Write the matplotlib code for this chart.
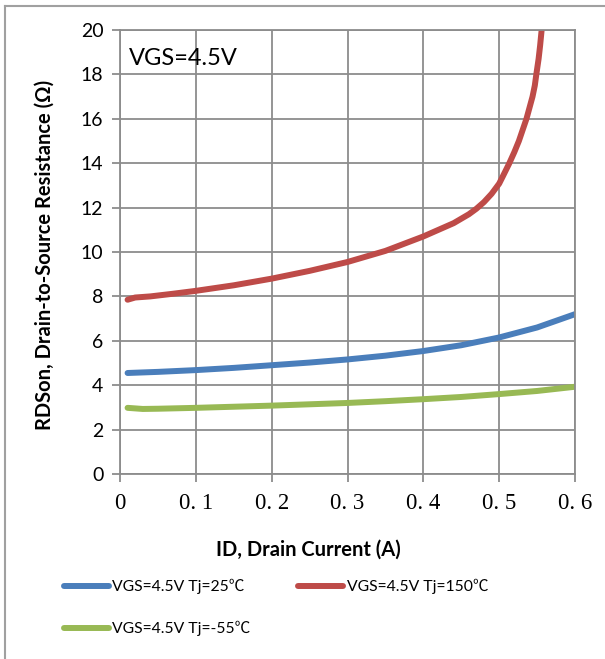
import numpy as np
import matplotlib
matplotlib.use("Agg")
import matplotlib.pyplot as plt
from matplotlib.lines import Line2D

# curves: drain current (A) vs RDSon (ohm)
id_25 = [0.01, 0.05, 0.1, 0.15, 0.2, 0.25, 0.3, 0.35, 0.4, 0.45, 0.5, 0.55, 0.6]
r_25 = [4.55, 4.6, 4.68, 4.78, 4.9, 5.02, 5.16, 5.33, 5.54, 5.8, 6.15, 6.6, 7.2]

id_150 = [0.01, 0.02, 0.04, 0.07, 0.1, 0.15, 0.2, 0.25, 0.3, 0.35, 0.4, 0.42,
          0.44, 0.46, 0.47, 0.48, 0.49, 0.5, 0.505, 0.513, 0.52, 0.526, 0.531,
          0.536, 0.54, 0.544, 0.547, 0.549, 0.552, 0.554, 0.556]
r_150 = [7.85, 7.95, 8.0, 8.12, 8.25, 8.5, 8.8, 9.15, 9.55, 10.05, 10.7, 11.0,
         11.3, 11.7, 11.95, 12.25, 12.62, 13.08, 13.42, 13.97, 14.5, 15.0, 15.5,
         16.0, 16.5, 17.0, 17.5, 18.0, 18.7, 19.3, 20.0]

id_m55 = [0.01, 0.03, 0.05, 0.1, 0.15, 0.2, 0.25, 0.3, 0.35, 0.4, 0.45, 0.5, 0.55, 0.6]
r_m55 = [2.98, 2.93, 2.94, 2.98, 3.03, 3.08, 3.14, 3.2, 3.28, 3.37, 3.47, 3.6, 3.74, 3.93]

labels = ["VGS=4.5V Tj=25\u2103", "VGS=4.5V Tj=150\u2103", "VGS=4.5V Tj=-55\u2103"]
colors = ["#4a7ebb", "#be4b48", "#98b954"]

xticks = [0, 0.1, 0.2, 0.3, 0.4, 0.5, 0.6]
xticklabels = ["0", "0. 1", "0. 2", "0. 3", "0. 4", "0. 5", "0. 6"]
yticks = np.arange(0, 21, 2)

sans = ["Lato", "Noto Sans CJK SC"]
grid_c = "#8c8c8c"

fig = plt.figure(figsize=(6.05, 6.59), dpi=100)
ax = fig.add_axes([120 / 605, 1 - 474 / 659, 455 / 605, 444 / 659])

lw = 4.3
l1, = ax.plot(id_25, r_25, color=colors[0], lw=lw, solid_capstyle="round")
l2, = ax.plot(id_150, r_150, color=colors[1], lw=lw, solid_capstyle="round")
l3, = ax.plot(id_m55, r_m55, color=colors[2], lw=lw, solid_capstyle="round")

ax.set_xlim(0, 0.6)
ax.set_ylim(0, 20)
ax.set_xticks(xticks)
ax.set_xticklabels(xticklabels, family="Liberation Serif", fontsize=16.5)
ax.set_yticks(yticks)
ax.set_yticklabels([str(v) for v in yticks], family=sans, fontsize=14)
ax.grid(True, color=grid_c, lw=1.3)
ax.set_axisbelow(True)
for s in ax.spines.values():
    s.set_color(grid_c)
    s.set_linewidth(1.3)
ax.tick_params(direction="out", length=6, width=1.3, color=grid_c)
ax.tick_params(axis="x", pad=8)
ax.tick_params(axis="y", pad=6)

ax.text(0.012, 18.7, "VGS=4.5V", family=sans, fontsize=17, va="center", ha="left")

fig.text(308 / 605, 1 - 550 / 659, "ID, Drain Current (A)", family=sans,
         fontsize=14.5, fontweight="bold", ha="center", va="center")
fig.text(45 / 605, 1 - 255 / 659, "RDSon, Drain-to-Source Resistance (\u03a9)",
         family=sans, fontsize=14.5, fontweight="bold", ha="center", va="center",
         rotation=90)

fig.legend([l1, l3, l2], [labels[0], labels[2], labels[1]], ncol=2,
           loc="upper left", bbox_to_anchor=(56 / 605, 1 - 571 / 659),
           frameon=False, borderpad=0, handlelength=2.9, handletextpad=0.2,
           columnspacing=3.0, labelspacing=1.7,
           prop={"family": sans, "size": 11.3})

# outer chart frame
fig.add_artist(Line2D([5 / 605, 5 / 605], [0, 1 - 6 / 659], color="#a0a0a0", lw=1.5))
fig.add_artist(Line2D([5 / 605, 1], [1 - 6 / 659, 1 - 6 / 659], color="#a0a0a0", lw=1.5))

fig.savefig("out.png", dpi=100)
